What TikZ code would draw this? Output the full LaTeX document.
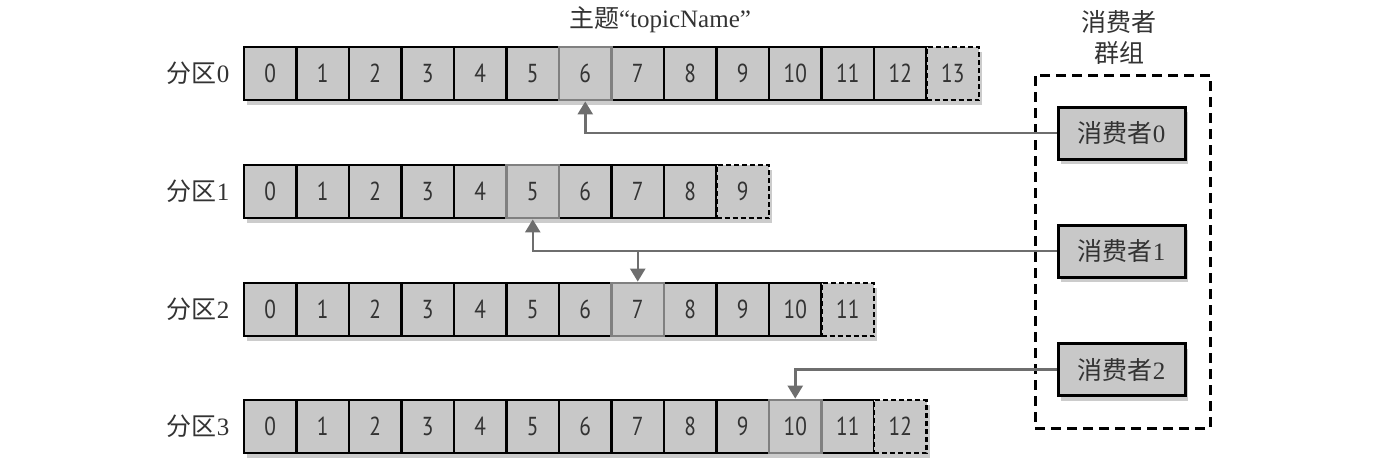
\documentclass[tikz,border=0pt]{standalone}
\usepackage{fontspec}
\setmainfont{Liberation Serif}
\newfontfamily\cjk{Noto Sans CJK SC}
\newfontfamily\numfont{PT Sans}
\usetikzlibrary{shadows,arrows.meta}
\definecolor{cellfill}{HTML}{C8C8C8}
\definecolor{hlborder}{HTML}{808080}
\definecolor{conncol}{HTML}{6E6E6E}
\definecolor{txt}{HTML}{333333}
\newcommand{\narrow}[1]{\scalebox{0.82}[1]{#1}}
\begin{document}
\begin{tikzpicture}[x=1pt,y=-1pt,
  cell/.style={draw=black,line width=2.8pt,fill=cellfill,minimum width=52.5pt,minimum height=53pt,inner sep=0pt,text=txt,font=\numfont\fontsize{26}{28}\selectfont},
  hlcell/.style={cell,draw=hlborder},
  newcell/.style={cell,dash pattern=on 5pt off 3pt},
  rowback/.style={fill=cellfill,draw=none,inner sep=0pt,minimum height=53pt,drop shadow={opacity=0.4,shadow xshift=3pt,shadow yshift=-5pt}},
  plabel/.style={anchor=east,text=txt,font=\fontsize{25}{28}\selectfont},
  consumer/.style={draw=black,line width=3pt,fill=cellfill,minimum width=127pt,minimum height=52pt,inner sep=0pt,text=txt,font=\fontsize{25}{28}\selectfont,drop shadow={opacity=0.4,shadow xshift=3pt,shadow yshift=-5pt}},
  group/.style={draw=black,line width=3pt,dash pattern=on 10pt off 6pt,minimum width=175pt,minimum height=353pt,inner sep=0pt},
  conn/.style={draw=conncol,line width=2.5pt,-{Triangle[width=15pt,length=13pt]}},
]
\useasboundingbox (0,0) rectangle (1383,475);

% title
\node[text=txt,font=\fontsize{25}{28}\selectfont] (title) at (660,20) {{\cjk 主题}“topicName”};

% rows
\foreach \r/\n/\y/\hl in {0/14/73.5/6, 1/10/191.5/5, 2/12/309.5/7, 3/13/426.5/10}{
  \pgfmathsetmacro{\w}{\n*52.5}
  \pgfmathsetmacro{\cx}{244+\w/2}
  \node[rowback,minimum width=\w pt] (back\r) at (\cx,\y) {};
  \node[plabel] (lab\r) at (233,\y) {{\cjk 分区}\r};
  \pgfmathtruncatemacro{\last}{\n-1}
  \pgfmathtruncatemacro{\prev}{\n-2}
  \foreach \i in {0,...,\prev}{
    \node[cell] (r\r c\i) at ({244+(\i+0.5)*52.5},\y) {\narrow{\i}};
  }
  \node[hlcell] (r\r c\hl) at ({244+(\hl+0.5)*52.5},\y) {\narrow{\hl}};
  \node[newcell] (r\r c\last) at ({244+(\last+0.5)*52.5},\y) {\narrow{\last}};
}

% consumer group
\node[group] (grp) at (1122.5,251.5) {};
\node[align=center,text=txt,font=\cjk\fontsize{25}{31}\selectfont] (grplabel) at (1119,37) {消费者\\群组};
\node[consumer] (cons0) at (1121.5,133) {{\cjk 消费者}0};
\node[consumer] (cons1) at (1121.5,251) {{\cjk 消费者}1};
\node[consumer] (cons2) at (1121.5,369.5) {{\cjk 消费者}2};

% connectors
\draw[conn] (cons0.west) -| (r0c6.south);
\draw[conn] (cons1.west) -| (r1c5.south);
\coordinate (j1) at (r2c7.north |- cons1.west);
\draw[conn] (j1) -- (r2c7.north);
\draw[conn] (cons2.west) -| (r3c10.north);
\end{tikzpicture}
\end{document}
